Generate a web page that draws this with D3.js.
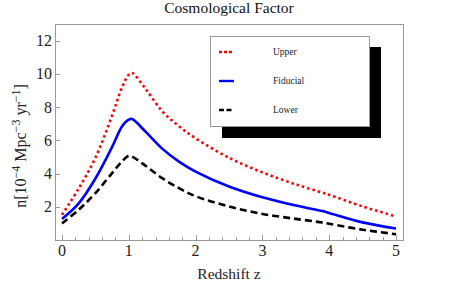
<!DOCTYPE html>
<html><head><meta charset="utf-8">
<script src="https://cdn.jsdelivr.net/npm/d3@7"></script>
<style>body{margin:0;background:#fff}svg{display:block}text{font-family:"Liberation Serif","Times New Roman",serif}</style>
</head><body><svg id="c" width="463" height="290"></svg>
<script>
const z =        [0,    0.25, 0.5,  0.75, 0.9,  1.0,  1.05,  1.25, 1.5,  1.75, 2,    2.5,  3,    3.5,  3.9,  4,    4.5,  5];
const upper =    [1.52, 3.1,  4.95, 7.5,  9.2,  9.95, 10.05, 9.1,  7.75, 6.85, 6.12, 4.95, 4.07, 3.35, 2.85, 2.72, 2.02, 1.42];
const fiducial = [1.26, 2.2,  3.7,  5.6,  6.85, 7.25, 7.28,  6.52, 5.5,  4.72, 4.12, 3.22, 2.57, 2.07, 1.74, 1.63, 1.06, 0.69];
const lower =    [1.0,  1.82, 2.82, 4.03, 4.73, 5.07, 5.02,  4.47, 3.72, 3.12, 2.64, 2.02, 1.57, 1.27, 1.05, 0.98, 0.62, 0.35];
const xTicks = [0,1,2,3,4,5];
const yTicks = [2,4,6,8,10,12];
const seriesNames = ["Upper","Fiducial","Lower"];

const svg = d3.select("#c");
const x = d3.scaleLinear().domain([-0.105, 5.105]).range([55, 403]);
const y = d3.scaleLinear().domain([0, 13]).range([240, 24]);

// frame
svg.append("rect").attr("x",55.5).attr("y",24.5).attr("width",348).attr("height",216)
  .attr("fill","none").attr("stroke","#999").attr("stroke-width",1);

// bottom ticks
const minor = d3.range(0, 5.01, 0.2);
svg.append("g").selectAll("line").data(minor).join("line")
  .attr("x1",d=>Math.round(x(d))+0.5).attr("x2",d=>Math.round(x(d))+0.5)
  .attr("y1",240).attr("y2",d=>Math.abs(d-Math.round(d))<1e-6?235:237)
  .attr("stroke","#999");
svg.append("g").selectAll("text").data(xTicks).join("text")
  .attr("x",d=>x(d)).attr("y",256).attr("text-anchor","middle")
  .attr("font-size",16).attr("fill","#222").text(d=>d);

// left ticks
svg.append("g").selectAll("line").data(yTicks).join("line")
  .attr("x1",55).attr("x2",60).attr("y1",d=>Math.round(y(d))+0.5).attr("y2",d=>Math.round(y(d))+0.5)
  .attr("stroke","#999");
svg.append("g").selectAll("text").data(yTicks).join("text")
  .attr("x",52).attr("y",d=>y(d)+5.5).attr("text-anchor","end")
  .attr("font-size",16).attr("fill","#222").text(d=>d);

// title and labels
svg.append("text").attr("x",229).attr("y",13).attr("text-anchor","middle")
  .attr("font-size",15.5).attr("fill","#111").text("Cosmological Factor");
svg.append("text").attr("x",229).attr("y",279).attr("text-anchor","middle")
  .attr("font-size",15.5).attr("fill","#222").text("Redshift z");
const yl = svg.append("text").attr("transform","translate(26,146) rotate(-90)")
  .attr("text-anchor","middle").attr("font-size",16).attr("fill","#222");
yl.append("tspan").text("n[10");
yl.append("tspan").attr("dy",-6).attr("font-size",12).text("\u22124");
yl.append("tspan").attr("dy",6).text(" Mpc");
yl.append("tspan").attr("dy",-6).attr("font-size",12).text("\u22123");
yl.append("tspan").attr("dy",6).text(" yr");
yl.append("tspan").attr("dy",-6).attr("font-size",12).text("\u22121");
yl.append("tspan").attr("dy",6).text("]");

// lines
const line = d3.line().x(d=>x(d[0])).y(d=>y(d[1])).curve(d3.curveCatmullRom.alpha(0.5));
const series = [
  {name:seriesNames[0], vals:upper, color:"#ff0000", dash:"2.5,3"},
  {name:seriesNames[1], vals:fiducial, color:"#0000ff", dash:null},
  {name:seriesNames[2], vals:lower, color:"#000000", dash:"7,4"}
];
series.forEach(s=>{
  svg.append("path").datum(z.map((v,i)=>[v,s.vals[i]]))
    .attr("d",line).attr("fill","none").attr("stroke",s.color)
    .attr("stroke-width",2.6).attr("stroke-dasharray",s.dash);
});

// legend
svg.append("rect").attr("x",222).attr("y",47).attr("width",159).attr("height",91).attr("fill","#000");
svg.append("rect").attr("x",210.5).attr("y",36.5).attr("width",159).attr("height",90)
  .attr("fill","#fff").attr("stroke","#999");
const ly = [52, 81, 110];
series.forEach((s,i)=>{
  svg.append("line").attr("x1",219).attr("x2",234).attr("y1",ly[i]).attr("y2",ly[i])
    .attr("stroke",s.color).attr("stroke-width",2.4).attr("stroke-dasharray",s.dash?(i===0?"3,2":"5,2.5"):null);
  svg.append("text").attr("x",273).attr("y",ly[i]+3).attr("font-size",9.5).attr("fill","#222").text(s.name);
});
</script></body></html>
